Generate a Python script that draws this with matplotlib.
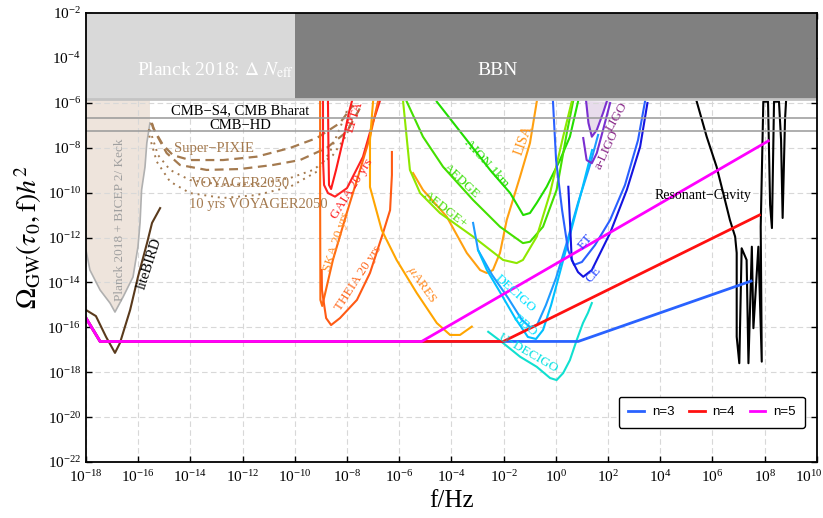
import numpy as np
import matplotlib
matplotlib.use('Agg')
import matplotlib.pyplot as plt
from matplotlib.ticker import LogLocator, NullLocator
from matplotlib.transforms import ScaledTranslation

plt.rcParams['font.family'] = ['Liberation Serif', 'DejaVu Serif']
plt.rcParams['mathtext.fontset'] = 'stix'

# all values are log10(f/Hz) and log10(Omega h^2)
bbn_bottom = -5.85
cmb_s4 = -6.68
cmb_hd = -7.26

planck_bicep_lf = [-18.0, -17.85, -17.46, -17.08, -16.89, -16.58, -16.20, -16.01, -15.93, -15.87, -15.74, -15.67, -15.55]
planck_bicep_lo = [-12.56, -13.45, -14.34, -14.92, -15.32, -14.65, -13.76, -12.42, -11.35, -9.88, -8.86, -7.79, -6.90]

litebird_lf = [-18.0, -17.62, -17.23, -16.89, -16.70, -16.31, -16.01, -15.66, -15.47, -15.16]
litebird_lo = [-15.23, -15.50, -16.43, -17.14, -16.70, -15.23, -13.76, -12.24, -11.35, -10.69]

pixie1_lf = [-15.48, -15.43, -15.05, -14.67, -14.02, -12.75, -11.46, -10.18, -9.16, -8.27, -7.77]
pixie1_lo = [-6.90, -7.12, -7.88, -8.33, -8.55, -8.55, -8.40, -8.01, -7.57, -6.90, -6.10]
pixie2_lf = [-15.48, -15.36, -14.91, -14.40, -13.38, -12.10, -10.84, -9.80, -8.78, -8.01, -7.50]
pixie2_lo = [-6.90, -7.29, -8.24, -8.77, -8.99, -8.95, -8.77, -8.55, -8.01, -7.29, -6.23]
voyager_lf = [-15.48, -15.55, -15.24, -14.78, -14.02, -12.75, -11.46, -10.18, -9.30, -8.54, -8.01, -7.77]
voyager_lo = [-6.90, -7.21, -8.33, -8.99, -9.44, -9.66, -9.62, -9.35, -8.99, -8.33, -7.43, -6.54]
voyager10_lf = [-15.48, -15.62, -15.29, -14.78, -14.02, -12.75, -11.46, -10.18, -9.16, -8.65, -8.27, -7.96]
voyager10_lo = [-6.90, -7.29, -8.62, -9.51, -10.02, -10.24, -10.11, -9.74, -9.07, -8.18, -7.12, -6.23]

epta_lf = [-8.73, -8.71, -8.69, -8.61, -8.42, -8.15, -7.92, -7.81]
epta_lo = [-5.92, -8.10, -9.66, -9.84, -8.99, -7.66, -6.41, -5.92]
gaia_lf = [-8.92, -8.92, -8.88, -8.73, -8.46, -8.0, -7.39, -7.04, -6.74]
gaia_lo = [-5.92, -8.55, -9.66, -10.02, -10.18, -9.80, -8.41, -6.99, -5.92]
ska_lf = [-9.03, -9.03, -9.02, -8.95, -8.54, -8.01, -7.50, -7.12, -6.81]
ska_lo = [-5.92, -10.33, -14.78, -15.05, -13.0, -10.91, -8.99, -7.52, -5.92]
theia_lf = [-8.97, -8.96, -8.80, -8.61, -8.27, -7.62, -7.12, -6.62, -6.35, -6.28, -6.28]
theia_lo = [-13.45, -14.34, -15.59, -15.90, -15.59, -14.78, -13.58, -11.80, -10.78, -9.22, -8.19]
mares_lf = [-7.0, -7.12, -7.12, -6.67, -6.10, -5.33, -4.56, -4.05, -3.67, -3.22]
mares_lo = [-5.92, -7.66, -9.75, -11.67, -13.0, -14.47, -15.81, -16.34, -16.34, -15.97]
lisa_lf = [-5.47, -5.09, -4.18, -3.41, -2.90, -2.65, -2.41, -2.14, -1.88, -1.37, -0.99, -0.73]
lisa_lo = [-9.13, -9.88, -11.07, -12.69, -13.45, -13.58, -13.45, -12.69, -11.22, -9.29, -7.79, -5.95]
aion_lf = [-4.56, -3.41, -2.52, -1.75, -1.25, -0.99, -0.73, -0.35, 0.16, 0.54, 0.85]
aion_lo = [-5.95, -7.66, -8.99, -10.02, -11.0, -10.91, -10.46, -9.74, -8.55, -7.51, -5.95]
aedge_lf = [-5.71, -5.09, -4.32, -3.17, -2.14, -1.26, -0.99, -0.49, 0.03, 0.42, 0.66]
aedge_lo = [-5.95, -7.51, -8.85, -10.33, -11.52, -12.25, -12.19, -11.52, -9.88, -7.35, -5.95]
aedgep_lf = [-5.85, -5.59, -5.20, -4.44, -3.17, -2.02, -1.50, -1.26, -0.73, -0.22, 0.28, 0.61]
aedgep_lo = [-5.95, -8.99, -10.02, -10.91, -11.96, -13.0, -13.14, -13.0, -11.96, -10.02, -7.51, -5.95]
decigo_lf = [-3.17, -2.98, -2.44, -1.83, -1.30, -0.99, -0.72, -0.38, 0.01, 0.39, 0.85, 1.31, 1.62]
decigo_lo = [-11.35, -12.56, -13.67, -14.69, -15.67, -15.99, -15.90, -15.01, -13.80, -12.34, -10.46, -8.77, -7.43]
bbo_lf = [-2.98, -2.64, -2.14, -1.56, -1.07, -0.76, -0.49, -0.18, 0.16, 0.54, 1.0, 1.39]
bbo_lo = [-12.56, -13.45, -14.43, -15.59, -16.43, -16.52, -16.12, -15.01, -13.54, -11.89, -9.88, -8.10]
udecigo_lf = [-2.59, -2.02, -1.37, -0.73, -0.22, 0.03, 0.28, 0.54, 0.80, 1.04, 1.23, 1.38]
udecigo_lo = [-16.20, -16.70, -17.31, -17.76, -18.26, -18.35, -18.04, -17.46, -16.57, -15.81, -15.36, -14.92]
et_lf = [-0.11, 0.01, 0.24, 0.47, 0.70, 1.0, 1.50, 2.08, 2.65, 3.15, 3.42]
et_lo = [-5.92, -8.55, -10.78, -12.56, -13.22, -13.09, -12.34, -11.22, -9.66, -7.66, -5.92]
ce_lf = [0.48, 0.61, 0.85, 1.05, 1.38, 2.08, 2.72, 3.23, 3.51]
ce_lo = [-9.74, -13.0, -13.54, -13.75, -13.45, -11.80, -9.88, -7.96, -6.01]
ligo_lf = [1.16, 1.25, 1.38, 1.57, 1.81, 1.95]
ligo_lo = [-5.92, -6.90, -7.51, -7.21, -6.45, -5.95]
aligo_lf = [1.05, 1.18, 1.38, 1.57, 1.81, 2.08]
aligo_lo = [-7.57, -8.55, -8.69, -8.24, -7.21, -6.01]
cavity_lf = [5.40, 5.78, 6.16, 6.48, 6.67, 6.87, 6.93, 6.93, 7.03, 7.12, 7.31, 7.38, 7.51, 7.57, 7.76, 7.89,
             7.85, 7.95, 8.13, 8.21, 8.28, 8.36, 8.55, 8.63, 8.69, 8.78, 8.82]
cavity_lo = [-5.95, -7.51, -8.85, -10.33, -11.22, -11.96, -12.69, -16.42, -17.60, -12.48, -13.0, -17.60, -12.41,
             -16.04, -12.41, -17.53, -11.52, -5.95, -5.95, -10.55, -11.58, -5.95, -5.95, -7.66, -11.13, -6.77, -5.95]

# model spectra for n = 3, 4, 5
n3_lf = [-18.0, -17.46, 0.86, 7.48]
n3_lo = [-15.59, -16.63, -16.63, -13.94]
n4_lf = [-18.0, -17.46, -2.01, 7.80]
n4_lo = [-15.59, -16.63, -16.63, -11.0]
n5_lf = [-18.0, -17.46, -5.14, 8.14]
n5_lo = [-15.59, -16.63, -16.63, -7.70]


def p(a):
    return 10.0 ** np.array(a)


fig = plt.figure(figsize=(8.23, 5.18), dpi=100)
ax = fig.add_axes([0.1045, 0.1081, 0.888, 0.8668])
ax.set_xscale('log')
ax.set_yscale('log')
ax.set_xlim(1e-18, 1e10)
ax.set_ylim(1e-22, 1e-2)

# excluded regions at the top
ax.fill_between([1e-18, 1e-10], 10 ** bbn_bottom, 1e-2, color='#d9d9d9', lw=0, zorder=3)
ax.fill_between([1e-10, 1e10], 10 ** bbn_bottom, 1e-2, color='#808080', lw=0, zorder=3)
ax.axhline(10 ** bbn_bottom, color='#c4c4c4', lw=2, zorder=3)
ax.axhline(10 ** cmb_s4, color='#999999', lw=1.1, zorder=3)
ax.axhline(10 ** cmb_hd, color='#999999', lw=1.1, zorder=3)

# Planck + BICEP region
px = list(planck_bicep_lf) + [planck_bicep_lf[-1], -18.0]
py = list(planck_bicep_lo) + [bbn_bottom, bbn_bottom]
ax.fill(p(px), p(py), color='#eee4dc', lw=0, zorder=1)
ax.plot(p(planck_bicep_lf), p(planck_bicep_lo), color='#b0b0b0', lw=1.2, zorder=2)

ax.plot(p(litebird_lf), p(litebird_lo), color='#5a3a1c', lw=1.5, zorder=2)

pix = '#a47a4f'
ax.plot(p(pixie1_lf), p(pixie1_lo), color=pix, lw=1.6, ls=(0, (4, 2.5)), zorder=2)
ax.plot(p(pixie2_lf), p(pixie2_lo), color=pix, lw=1.6, ls=(0, (4, 2.5)), zorder=2)
ax.plot(p(voyager_lf), p(voyager_lo), color=pix, lw=1.4, ls=(0, (1, 2.5)), zorder=2)
ax.plot(p(voyager10_lf), p(voyager10_lo), color=pix, lw=1.4, ls=(0, (1, 2.5)), zorder=2)

curves = [
    (epta_lf, epta_lo, '#ff1a1a'),
    (gaia_lf, gaia_lo, '#ff2222'),
    (ska_lf, ska_lo, '#ff6a10'),
    (theia_lf, theia_lo, '#ff5a14'),
    (mares_lf, mares_lo, '#ffa500'),
    (lisa_lf, lisa_lo, '#ffa010'),
    (aion_lf, aion_lo, '#22dd00'),
    (aedge_lf, aedge_lo, '#44e000'),
    (aedgep_lf, aedgep_lo, '#8ee800'),
    (decigo_lf, decigo_lo, '#1e9bff'),
    (bbo_lf, bbo_lo, '#00c0ff'),
    (udecigo_lf, udecigo_lo, '#10e0d0'),
    (et_lf, et_lo, '#2a60ff'),
    (ce_lf, ce_lo, '#1414e0'),
    (aligo_lf, aligo_lo, '#7a2fd0'),
    (cavity_lf, cavity_lo, 'black'),
]
for lf, lo, c in curves:
    ax.plot(p(lf), p(lo), color=c, lw=1.5, zorder=2)

# LIGO bound with shaded region
ax.fill(p(ligo_lf), p(ligo_lo), color='#e8dcec', lw=0, zorder=1)
ax.plot(p(ligo_lf), p(ligo_lo), color='#7a2fd0', lw=1.5, zorder=2)

# model lines
ax.plot(p(n3_lf), p(n3_lo), color='#2962ff', lw=2, label='n=3', zorder=4)
ax.plot(p(n4_lf), p(n4_lo), color='#ff1010', lw=2, label='n=4', zorder=4)
ax.plot(p(n5_lf), p(n5_lo), color='#ff00ff', lw=2, label='n=5', zorder=4)

# labels
def lab(x, y, s, c, rot=0, size=10, **kw):
    ax.text(10 ** x, 10 ** y, s, color=c, rotation=rot, fontsize=size,
            ha='center', va='center', rotation_mode='anchor', zorder=5, **kw)

lab(-13.06, -4.54, r'Planck 2018: $\Delta\ N_{\rm eff}$', 'white', size=14)
lab(-2.25, -4.54, 'BBN', 'white', size=14)
lab(-12.10, -6.37, 'CMB−S4, CMB Bharat', 'black', size=10.5)
lab(-12.10, -6.99, 'CMB−HD', 'black', size=10.5)
lab(-13.10, -8.03, 'Super−PIXIE', pix, size=10.5)
lab(-12.08, -9.59, 'VOYAGER2050', pix, size=10.5)
lab(-11.41, -10.52, '10 yrs VOYAGER2050', pix, size=10.5)
lab(-16.70, -11.22, 'Planck 2018 + BICEP 2/ Keck', '#a0a0a0', rot=90, size=9.5)
lab(-15.55, -13.15, 'liteBIRD', 'black', rot=72, size=10.5)
lab(-7.69, -6.62, 'EPTA', '#ff1a1a', rot=72, size=9.5)
lab(-7.82, -9.81, 'GAIA 20 yrs', '#ff2222', rot=58, size=9.5)
lab(-8.40, -12.19, 'SKA 20 yrs', '#ff8a20', rot=72, size=9.5)
lab(-7.57, -13.82, 'THEIA 20 yrs', '#ff6a20', rot=57, size=9.5)
lab(-5.14, -14.12, r'$\mu$ARES', '#ff8a20', rot=-55, size=9.5)
lab(-1.25, -7.66, 'LISA', '#ff9010', rot=70, size=10)
lab(-2.65, -8.69, 'AION 1km', '#22dd00', rot=-48, size=9.5)
lab(-3.61, -9.51, 'AEDGE', '#33dd00', rot=-43, size=9.5)
lab(-4.25, -10.78, 'AEDGE+', '#44dd00', rot=-38, size=9.5)
lab(-1.56, -14.49, 'DECIGO', '#00e0ff', rot=-42, size=9.5)
lab(-1.18, -15.90, 'BBO', '#00e0ff', rot=-40, size=9.5)
lab(-1.05, -17.16, 'U−DECIGO', '#00e0e0', rot=-30, size=9.5)
lab(1.12, -12.19, 'ET', '#2040ff', rot=50, size=9.5)
lab(1.44, -13.67, 'CE', '#2040ff', rot=50, size=9.5)
lab(2.33, -6.62, 'LIGO', '#8a2a8a', rot=60, size=9.5)
lab(1.95, -8.10, 'a-LIGO', '#8a2a8a', rot=65, size=9.5)
lab(5.65, -10.11, 'Resonant−Cavity', 'black', size=10)

# axes styling
ax.xaxis.set_major_locator(LogLocator(base=100.0, numticks=20))
ax.yaxis.set_major_locator(LogLocator(base=100.0, numticks=20))
ax.xaxis.set_minor_locator(NullLocator())
ax.yaxis.set_minor_locator(NullLocator())
ax.tick_params(which='major', direction='in', top=True, right=True, length=4, width=1, labelsize=11)
ax.tick_params(axis='x', pad=5)
ax.grid(True, color='#d8d8d8', ls=(0, (5, 3)), lw=0.8, zorder=0)
for s in ax.spines.values():
    s.set_linewidth(1.3)
    s.set_zorder(6)

ax.set_xlabel('f/Hz', fontsize=18)
ax.set_ylabel(r'$\Omega_{\rm GW}(\tau_0,{\rm f})h^2$', fontsize=20, labelpad=2)

leg = ax.legend(loc='lower left', bbox_to_anchor=(0.72, 0.062), ncol=3, fancybox=True, framealpha=1,
                edgecolor='black', prop={'family': 'Liberation Sans', 'size': 9.5},
                handlelength=1.2, handletextpad=0.6, columnspacing=1.1, borderpad=0.7)
leg.get_frame().set_linewidth(1.0)
leg.set_zorder(7)

# nudge the 10^10 label so it stays inside the figure
fig.canvas.draw()
for t in ax.xaxis.get_major_ticks():
    if abs(np.log10(t.get_loc()) - 10) < 1e-6:
        t.label1.set_transform(t.label1.get_transform() + ScaledTranslation(-0.08, 0, fig.dpi_scale_trans))

plt.savefig('out.png', dpi=100)
